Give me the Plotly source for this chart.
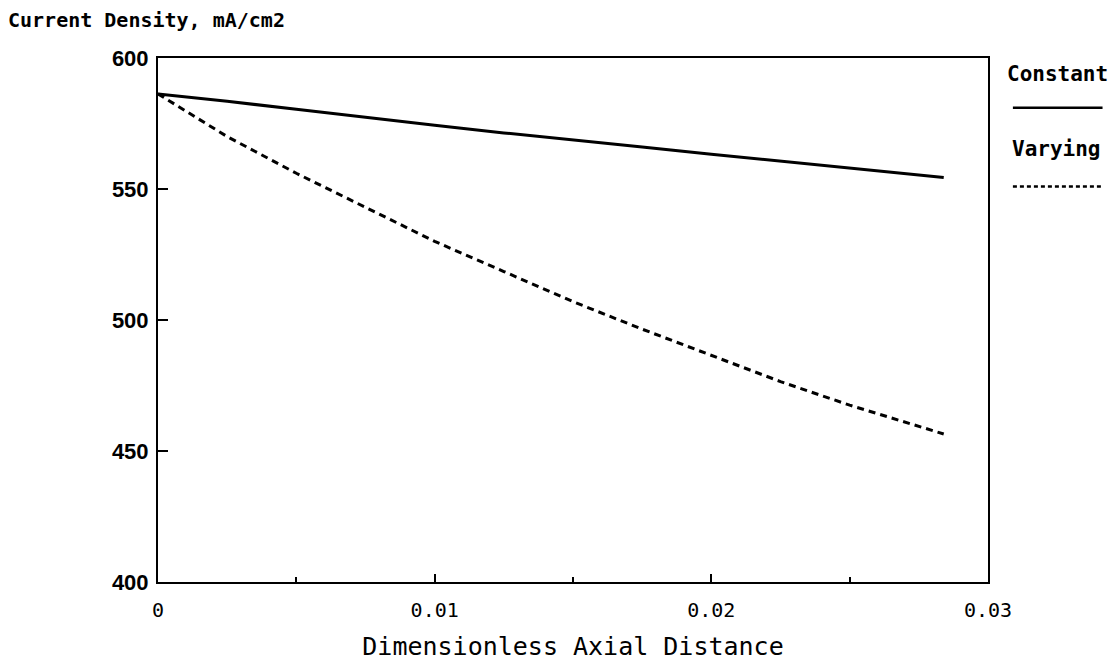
import plotly.graph_objects as go

x_vals = [0, 0.0025, 0.005, 0.0075, 0.01, 0.0125, 0.015, 0.0175, 0.02, 0.0225, 0.025, 0.0275, 0.0284]
constant = [586.3, 583.5, 580.4, 577.3, 574.3, 571.4, 568.6, 566.0, 563.3, 560.6, 558.0, 555.4, 554.4]
varying = [586.3, 570.0, 556.0, 543.0, 530.0, 518.5, 507.0, 496.5, 486.5, 476.5, 467.5, 459.5, 456.5]

x_tickvals = [0, 0.01, 0.02, 0.03]
x_ticktext = ["0", "0.01", "0.02", "0.03"]
y_tickvals = [400, 450, 500, 550, 600]
y_ticktext = ["400", "450", "500", "550", "600"]

mono = "DejaVu Sans Mono"

fig = go.Figure()
fig.add_trace(go.Scatter(x=x_vals, y=constant, mode="lines", name="Constant",
                         line=dict(color="black", width=3), showlegend=False))
fig.add_trace(go.Scatter(x=x_vals, y=varying, mode="lines", name="Varying",
                         line=dict(color="black", width=3, dash="7px,5px"), showlegend=False))

fig.update_layout(
    width=1115, height=663,
    margin=dict(l=158, r=127, t=58, b=81),
    paper_bgcolor="white", plot_bgcolor="white",
    xaxis=dict(range=[0, 0.03], tickvals=x_tickvals, ticktext=x_ticktext,
               ticks="inside", ticklen=8, tickwidth=2, tickcolor="black",
               minor=dict(dtick=0.005, tick0=0, ticks="inside", ticklen=5, tickwidth=2, tickcolor="black"),
               showline=True, linecolor="black", linewidth=2, mirror=True,
               showgrid=False, zeroline=False, automargin=False,
               tickfont=dict(family=mono, size=20, color="black"),
               ticklabelstandoff=9,
               title=dict(text="Dimensionless Axial Distance",
                          font=dict(family=mono, size=25, color="black"), standoff=16)),
    yaxis=dict(range=[400, 600], tickvals=y_tickvals, ticktext=y_ticktext,
               ticks="inside", ticklen=10, tickwidth=2, tickcolor="black",
               showline=True, linecolor="black", linewidth=2, mirror=True,
               showgrid=False, zeroline=False, automargin=False,
               tickfont=dict(family="Liberation Sans", size=22, color="black", weight="bold"),
               ticklabelstandoff=3),
)

fig.add_annotation(text="<b>Current Density, mA/cm2</b>", xref="paper", yref="paper",
                   x=-0.183, y=1.0, yshift=38, xanchor="left", yanchor="middle", showarrow=False,
                   font=dict(family=mono, size=20, color="black"))

# legend (text above line sample)
fig.add_annotation(text="<b>Constant</b>", xref="paper", yref="paper", x=1.02, y=0.97,
                   xanchor="left", yanchor="middle", showarrow=False,
                   font=dict(family=mono, size=21, color="black"))
fig.add_annotation(text="<b>Varying</b>", xref="paper", yref="paper", x=1.027, y=0.826,
                   xanchor="left", yanchor="middle", showarrow=False,
                   font=dict(family=mono, size=21, color="black"))
fig.add_shape(type="line", xref="paper", yref="paper", x0=1.03, x1=1.138, y0=0.905, y1=0.905,
              line=dict(color="black", width=2.5))
fig.add_shape(type="line", xref="paper", yref="paper", x0=1.03, x1=1.136, y0=0.755, y1=0.755,
              line=dict(color="black", width=2.5, dash="4px,3px"))

fig.write_html("out.html")
